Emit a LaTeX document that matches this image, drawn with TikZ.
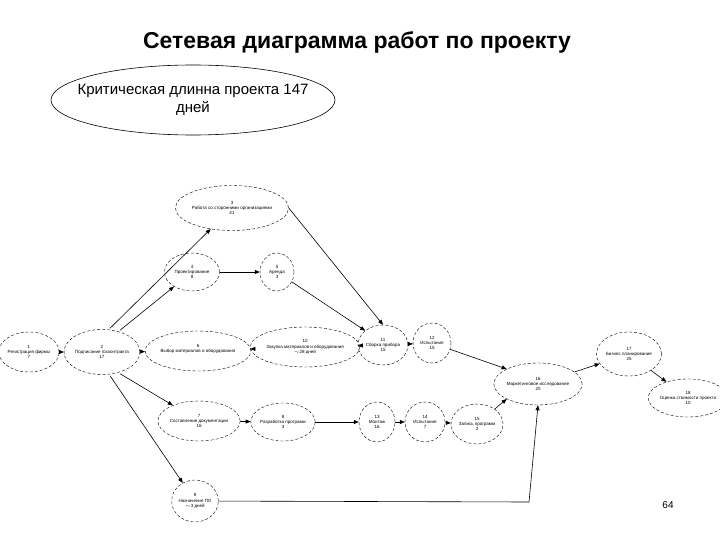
\documentclass[tikz,border=0pt]{standalone}
\usepackage{fontspec}
\setmainfont{Liberation Sans}
\usetikzlibrary{shapes.geometric,arrows.meta}
\begin{document}
\begin{tikzpicture}[x=1pt,y=-1pt,
  ev/.style={ellipse,draw,densely dashed,line width=0.4pt,inner sep=0pt,align=center,font=\fontsize{4.5}{5.3}\selectfont},
  ar/.style={-{Triangle[length=5pt,width=4pt]},line width=0.6pt}]
\useasboundingbox (0,0) rectangle (720,540);
\node[font=\bfseries\fontsize{23}{26}\selectfont] (title) at (357,42) {Сетевая диаграмма работ по проекту};
\draw[line width=0.6pt] (193,100) ellipse [x radius=142pt, y radius=35pt];
\node[align=center,font=\fontsize{15}{18}\selectfont] (crit) at (193,100) {Критическая длинна проекта 147\\дней};
\node[ev,minimum width=58pt,minimum height=40pt] (n1) at (29,352) {1\\Регистрация фирмы\\7};
\node[ev,minimum width=75pt,minimum height=45pt] (n2) at (102,352) {2\\Подписание госконтракта\\17};
\node[ev,minimum width=105pt,minimum height=45pt] (n3) at (232,208) {3\\Работа со сторонними организациями\\41};
\node[ev,minimum width=55pt,minimum height=38pt] (n4) at (192,272) {4\\Проектирование\\8};
\node[ev,minimum width=34pt,minimum height=38pt] (n5) at (277,272) {5\\Аренда\\3};
\node[ev,minimum width=90pt,minimum height=40pt] (n6) at (198,351) {6\\Выбор материалов и оборудования\\};
\node[ev,minimum width=100pt,minimum height=40pt] (n10) at (305,347) {10\\Закупка материалов и оборудования\\$\sim$28 дней};
\node[ev,minimum width=50pt,minimum height=40pt] (n11) at (383,345) {11\\Сборка прибора\\15};
\node[ev,minimum width=38pt,minimum height=40pt] (n12) at (432,343) {12\\Испытания\\15};
\node[ev,minimum width=82pt,minimum height=42pt] (n16) at (538,384) {16\\Маркетинговое исследование\\20};
\node[ev,minimum width=64pt,minimum height=44pt] (n17) at (629,354) {17\\Бизнес планирование\\25};
\node[ev,minimum width=68pt,minimum height=38pt] (n18) at (688,398) {18\\Оценка стоимости проекта\\10};
\node[ev,minimum width=80pt,minimum height=40pt] (n7) at (199,421) {7\\Составление документации\\16};
\node[ev,minimum width=62pt,minimum height=38pt] (n8) at (283,422) {8\\Разработка программ\\3};
\node[ev,minimum width=36pt,minimum height=40pt] (n13) at (377,422) {13\\Монтаж\\16};
\node[ev,minimum width=40pt,minimum height=40pt] (n14) at (425,422) {14\\Испытание\\7};
\node[ev,minimum width=52pt,minimum height=40pt] (n15) at (477,424) {15\\Запись программ\\2};
\node[ev,minimum width=46pt,minimum height=42pt] (n9) at (195,501) {9\\Назначение ПО\\$\sim$3 дней};
\node[font=\fontsize{10}{12}\selectfont] (pg) at (668,505) {64};
\coordinate (c9) at (529,502);
\draw[ar] (n1) -- (n2);
\draw[ar] (n2.north) ++(8,-1) -- (n3);
\draw[ar] (n2.north) ++(18,1) -- (n4);
\draw[ar] (n2) -- (n6);
\draw[ar] (n2.south) ++(18,-1) -- (n7);
\draw[ar] (n2.south) ++(8,1) -- (n9);
\draw[ar] (n4) -- (n5);
\draw[ar] (n6) -- (n10);
\draw[ar] (n10) -- (n11);
\draw[ar] (n3.east) -- (n11.north);
\draw[ar] (n5) -- (n11.north west);
\draw[ar] (n11) -- (n12);
\draw[ar] (n12) -- (n16.north west);
\draw[ar] (n16) -- (n17);
\draw[ar] (n17) -- (n18);
\draw[ar] (n7) -- (n8);
\draw[ar] (n8) -- (n13);
\draw[ar] (n13) -- (n14);
\draw[ar] (n14) -- (n15);
\draw[ar] (n15) -- (n16.south west);
\draw[line width=0.6pt] (n9) -- (c9);
\draw[ar] (c9) -- (n16.south);
\end{tikzpicture}
\end{document}
